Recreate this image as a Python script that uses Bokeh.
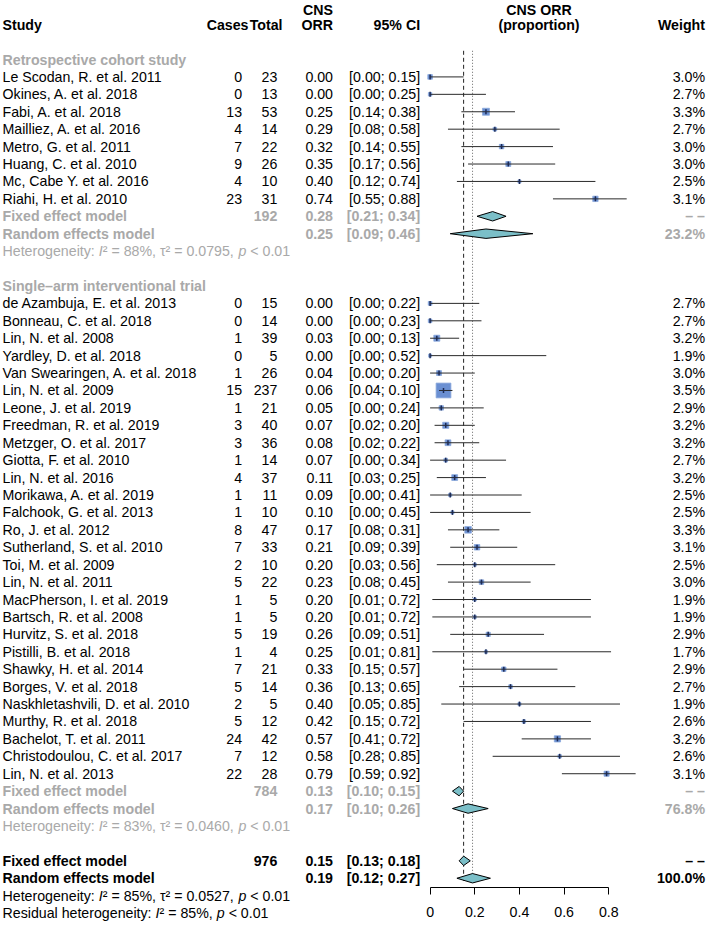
import math
from bokeh.plotting import figure
from bokeh.models import Range1d, ColumnDataSource, FixedTicker
from bokeh.core.properties import value, field
from bokeh.embed import file_html
from bokeh.resources import INLINE

# ---------------- data ----------------
retro_label = "Retrospective cohort study"
retro_study = ["Le Scodan, R. et al. 2011", "Okines, A. et al. 2018", "Fabi, A. et al. 2018",
               "Mailliez, A. et al. 2016", "Metro, G. et al. 2011", "Huang, C. et al. 2010",
               "Mc, Cabe Y. et al. 2016", "Riahi, H. et al. 2010"]
retro_cases = [0, 0, 13, 4, 7, 9, 4, 23]
retro_total = [23, 13, 53, 14, 22, 26, 10, 31]
retro_orr = [0.00, 0.00, 0.25, 0.29, 0.32, 0.35, 0.40, 0.74]
retro_lo = [0.00, 0.00, 0.14, 0.08, 0.14, 0.17, 0.12, 0.55]
retro_hi = [0.15, 0.25, 0.38, 0.58, 0.55, 0.56, 0.74, 0.88]
retro_weight = [3.0, 2.7, 3.3, 2.7, 3.0, 3.0, 2.5, 3.1]
retro_n = 192
retro_fixed = [0.28, 0.21, 0.34]
retro_random = [0.25, 0.09, 0.46]
retro_random_w = 23.2
retro_het = ["88%", "0.0795", "< 0.01"]

single_label = "Single\u2013arm interventional trial"
single_study = ["de Azambuja, E. et al. 2013", "Bonneau, C. et al. 2018", "Lin, N. et al. 2008",
                "Yardley, D. et al. 2018", "Van Swearingen, A. et al. 2018", "Lin, N. et al. 2009",
                "Leone, J. et al. 2019", "Freedman, R. et al. 2019", "Metzger, O. et al. 2017",
                "Giotta, F. et al. 2010", "Lin, N. et al. 2016", "Morikawa, A. et al. 2019",
                "Falchook, G. et al. 2013", "Ro, J. et al. 2012", "Sutherland, S. et al. 2010",
                "Toi, M. et al. 2009", "Lin, N. et al. 2011", "MacPherson, I. et al. 2019",
                "Bartsch, R. et al. 2008", "Hurvitz, S. et al. 2018", "Pistilli, B. et al. 2018",
                "Shawky, H. et al. 2014", "Borges, V. et al. 2018", "Naskhletashvili, D. et al. 2010",
                "Murthy, R. et al. 2018", "Bachelot, T. et al. 2011", "Christodoulou, C. et al. 2017",
                "Lin, N. et al. 2013"]
single_cases = [0, 0, 1, 0, 1, 15, 1, 3, 3, 1, 4, 1, 1, 8, 7, 2, 5, 1, 1, 5, 1, 7, 5, 2, 5, 24, 7, 22]
single_total = [15, 14, 39, 5, 26, 237, 21, 40, 36, 14, 37, 11, 10, 47, 33, 10, 22, 5, 5, 19, 4, 21,
                14, 5, 12, 42, 12, 28]
single_orr = [0.00, 0.00, 0.03, 0.00, 0.04, 0.06, 0.05, 0.07, 0.08, 0.07, 0.11, 0.09, 0.10, 0.17,
              0.21, 0.20, 0.23, 0.20, 0.20, 0.26, 0.25, 0.33, 0.36, 0.40, 0.42, 0.57, 0.58, 0.79]
single_lo = [0.00, 0.00, 0.00, 0.00, 0.00, 0.04, 0.00, 0.02, 0.02, 0.00, 0.03, 0.00, 0.00, 0.08,
             0.09, 0.03, 0.08, 0.01, 0.01, 0.09, 0.01, 0.15, 0.13, 0.05, 0.15, 0.41, 0.28, 0.59]
single_hi = [0.22, 0.23, 0.13, 0.52, 0.20, 0.10, 0.24, 0.20, 0.22, 0.34, 0.25, 0.41, 0.45, 0.31,
             0.39, 0.56, 0.45, 0.72, 0.72, 0.51, 0.81, 0.57, 0.65, 0.85, 0.72, 0.72, 0.85, 0.92]
single_weight = [2.7, 2.7, 3.2, 1.9, 3.0, 3.5, 2.9, 3.2, 3.2, 2.7, 3.2, 2.5, 2.5, 3.3, 3.1, 2.5,
                 3.0, 1.9, 1.9, 2.9, 1.7, 2.9, 2.7, 1.9, 2.6, 3.2, 2.6, 3.1]
single_n = 784
single_fixed = [0.13, 0.10, 0.15]
single_random = [0.17, 0.10, 0.26]
single_random_w = 76.8
single_het = ["83%", "0.0460", "< 0.01"]

overall_n = 976
overall_fixed = [0.15, 0.13, 0.18]
overall_random = [0.19, 0.12, 0.27]
overall_random_w = 100.0
overall_het = ["85%", "0.0527", "< 0.01"]
residual_het = ["85%", "< 0.01"]

header_cols = ["Study", "Cases", "Total", "CNS", "ORR", "95% CI", "CNS ORR", "(proportion)", "Weight"]
axis_ticks = [0, 0.2, 0.4, 0.6, 0.8]
axis_tick_labels = ["0", "0.2", "0.4", "0.6", "0.8"]

# ---------------- layout ----------------
W, H = 706, 924
X0, SX = 429.6, 223.4          # figure px of value 0, px per unit
Y0, SY = 59.0, 17.42           # figure px of row 0, px per row
FONT = "Liberation Sans"
FS = 14.2
GREY = "#a9a9a9"
BLACK = "#000000"
NB = "\u00a0"


def fx(px):
    return (px - X0) / SX


x_left, x_right = fx(0), fx(W)
r_top, r_bot = (0 - Y0) / SY, (H - Y0) / SY

p = figure(width=W, height=H, x_range=Range1d(x_left, x_right), y_range=Range1d(r_bot, r_top),
           output_backend="svg", toolbar_location=None, y_axis_type=None, min_border=0)
p.min_border_left = p.min_border_right = p.min_border_top = p.min_border_bottom = 0
p.grid.visible = False
p.outline_line_color = None
p.background_fill_color = "white"
p.border_fill_color = "white"

C_STUDY, C_CASES, C_CASES_H, C_TOTAL, C_TOTAL_H = 2.0, 241.6, 248.0, 276.8, 282.0
C_ORR, C_CI, C_FOREST, C_WEIGHT = 332.5, 419.6, 538.5, 704.5

T = dict(x=[], y=[], text=[], align=[], color=[], style=[])


def add(px, r, txt, align="left", color=BLACK, style="normal"):
    T["x"].append(fx(px)); T["y"].append(r); T["text"].append(txt)
    T["align"].append(align); T["color"].append(color); T["style"].append(style)


# width table (per 1000 em) for the heterogeneity lines
WID = {' ': 278, NB: 278, ':': 278, ',': 278, '.': 278, '%': 889, '=': 584, '<': 584,
       '\u00b2': 333, '\u03c4': 440, 'H': 722, 'R': 722, 'e': 556, 't': 278, 'r': 333,
       'o': 556, 'g': 556, 'n': 556, 'i': 222, 'y': 500, 's': 500, 'd': 556, 'u': 556,
       'a': 556, 'l': 222, 'h': 556, 'I': 278, 'p': 556}


def tw(s):
    return sum(WID.get(c, 556) for c in s) * FS / 1000.0


def add_segments(r, segs, color):
    px = C_STUDY
    for txt, style in segs:
        add(px, r, txt, "left", color, style)
        px += tw(txt)


def het_line(r, het, color, prefix="Heterogeneity:" + NB):
    add_segments(r, [(prefix, "normal"), ("I", "italic"),
                     ("\u00b2 = %s, \u03c4\u00b2 = %s," % (het[0], het[1]) + NB, "normal"),
                     ("p", "italic"), (NB + het[2], "normal")], color)


# headers
r_h1, r_h2 = -2.85, -2.0
add(C_STUDY, r_h2, header_cols[0], style="bold")
add(C_CASES_H, r_h2, header_cols[1], "right", style="bold")
add(C_TOTAL_H, r_h2, header_cols[2], "right", style="bold")
add(C_ORR, r_h1, header_cols[3], "right", style="bold")
add(C_ORR, r_h2, header_cols[4], "right", style="bold")
add(C_CI, r_h2, header_cols[5], "right", style="bold")
add(C_FOREST, r_h1, header_cols[6], "center", style="bold")
add(C_FOREST, r_h2, header_cols[7], "center", style="bold")
add(C_WEIGHT, r_h2, header_cols[8], "right", style="bold")

study_rows = dict(r=[], est=[], lo=[], hi=[], side=[])
diamonds = dict(xs=[], ys=[])
DH = 0.27


def diamond(r, est, lo, hi):
    diamonds["xs"].append([lo, est, hi, est])
    diamonds["ys"].append([r, r - DH, r, r + DH])


def group(r0, label, studies, cases, totals, orr, lo, hi, weight, n, fixed, random, random_w, het):
    add(C_STUDY, r0, label, color=GREY, style="bold")
    for i in range(len(studies)):
        r = r0 + 1 + i
        add(C_STUDY, r, studies[i])
        add(C_CASES, r, str(cases[i]), "right")
        add(C_TOTAL, r, str(totals[i]), "right")
        add(C_ORR, r, "%.2f" % orr[i], "right")
        add(C_CI, r, "[%.2f; %.2f]" % (lo[i], hi[i]), "right")
        add(C_WEIGHT, r, "%.1f%%" % weight[i], "right")
        study_rows["r"].append(r); study_rows["est"].append(orr[i])
        study_rows["lo"].append(lo[i]); study_rows["hi"].append(hi[i])
        study_rows["side"].append(max(3.0, 0.96 * math.sqrt(totals[i])))
    rf = r0 + 1 + len(studies)
    add(C_STUDY, rf, "Fixed effect model", color=GREY, style="bold")
    add(C_TOTAL, rf, str(n), "right", GREY, "bold")
    add(C_ORR, rf, "%.2f" % fixed[0], "right", GREY, "bold")
    add(C_CI, rf, "[%.2f; %.2f]" % (fixed[1], fixed[2]), "right", GREY, "bold")
    add(C_WEIGHT, rf, "\u2013 \u2013", "right", GREY, "bold")
    diamond(rf, *fixed)
    rr = rf + 1
    add(C_STUDY, rr, "Random effects model", color=GREY, style="bold")
    add(C_ORR, rr, "%.2f" % random[0], "right", GREY, "bold")
    add(C_CI, rr, "[%.2f; %.2f]" % (random[1], random[2]), "right", GREY, "bold")
    add(C_WEIGHT, rr, "%.1f%%" % random_w, "right", GREY, "bold")
    diamond(rr, *random)
    het_line(rr + 1, het, GREY)
    return rr + 1


r_end = group(0, retro_label, retro_study, retro_cases, retro_total, retro_orr, retro_lo, retro_hi,
              retro_weight, retro_n, retro_fixed, retro_random, retro_random_w, retro_het)
r_end = group(r_end + 2, single_label, single_study, single_cases, single_total, single_orr,
              single_lo, single_hi, single_weight, single_n, single_fixed, single_random,
              single_random_w, single_het)

rf = r_end + 2
add(C_STUDY, rf, "Fixed effect model", style="bold")
add(C_TOTAL, rf, str(overall_n), "right", style="bold")
add(C_ORR, rf, "%.2f" % overall_fixed[0], "right", style="bold")
add(C_CI, rf, "[%.2f; %.2f]" % (overall_fixed[1], overall_fixed[2]), "right", style="bold")
add(C_WEIGHT, rf, "\u2013 \u2013", "right", style="bold")
diamond(rf, *overall_fixed)
rr = rf + 1
add(C_STUDY, rr, "Random effects model", style="bold")
add(C_ORR, rr, "%.2f" % overall_random[0], "right", style="bold")
add(C_CI, rr, "[%.2f; %.2f]" % (overall_random[1], overall_random[2]), "right", style="bold")
add(C_WEIGHT, rr, "%.1f%%" % overall_random_w, "right", style="bold")
diamond(rr, *overall_random)
het_line(rr + 1, overall_het, BLACK)
add_segments(rr + 2, [("Residual heterogeneity:" + NB, "normal"), ("I", "italic"),
                      ("\u00b2 = %s," % residual_het[0] + NB, "normal"), ("p", "italic"),
                      (NB + residual_het[1], "normal")], BLACK)

# reference lines (overall fixed dashed, overall random dotted)
p.segment(x0=[overall_fixed[0]], y0=[-0.5], x1=[overall_fixed[0]], y1=[rr + 0.3],
          line_color="#222222", line_width=1, line_dash="4 3")
p.segment(x0=[overall_random[0]], y0=[-0.5], x1=[overall_random[0]], y1=[rr + 0.3],
          line_color="#666666", line_width=1, line_dash="1 2")

# study squares, CIs, point ticks
ss = ColumnDataSource(study_rows)
p.scatter(x="est", y="r", size="side", marker="square", source=ss,
          fill_color="#6a8fd2", line_color="#8aa8dc", line_width=0.8)
p.segment(x0="lo", y0="r", x1="hi", y1="r", source=ss, line_color="#2a2a2a", line_width=1)
p.scatter(x="est", y="r", marker="dash", angle=math.pi / 2, size=5, source=ss,
          line_color="#1c2a55", line_width=1.5)

# diamonds
p.patches(xs="xs", ys="ys", source=ColumnDataSource(diamonds),
          fill_color="#7bbfc8", line_color="black", line_width=1)

# text
p.text(x="x", y="y", text="text", source=ColumnDataSource(T),
       text_align=field("align"), text_color=field("color"), text_font_style=field("style"),
       text_font=value(FONT), text_font_size=value("%.1fpx" % FS), text_baseline="middle")

# x axis at fixed location
ax = p.xaxis[0]
ax.fixed_location = rr + 0.54
ax.bounds = (axis_ticks[0], axis_ticks[-1])
ax.ticker = FixedTicker(ticks=axis_ticks)
ax.major_label_overrides = {t: l for t, l in zip(axis_ticks, axis_tick_labels)}
ax.major_tick_in = 0
ax.major_tick_out = 7
ax.minor_tick_in = 0
ax.minor_tick_out = 0
ax.axis_line_color = "black"
ax.major_tick_line_color = "black"
ax.major_label_text_font = FONT
ax.major_label_text_font_size = "%.1fpx" % FS
ax.major_label_text_color = "black"
ax.major_label_standoff = 12

open("out.html", "w").write(file_html(p, INLINE))
